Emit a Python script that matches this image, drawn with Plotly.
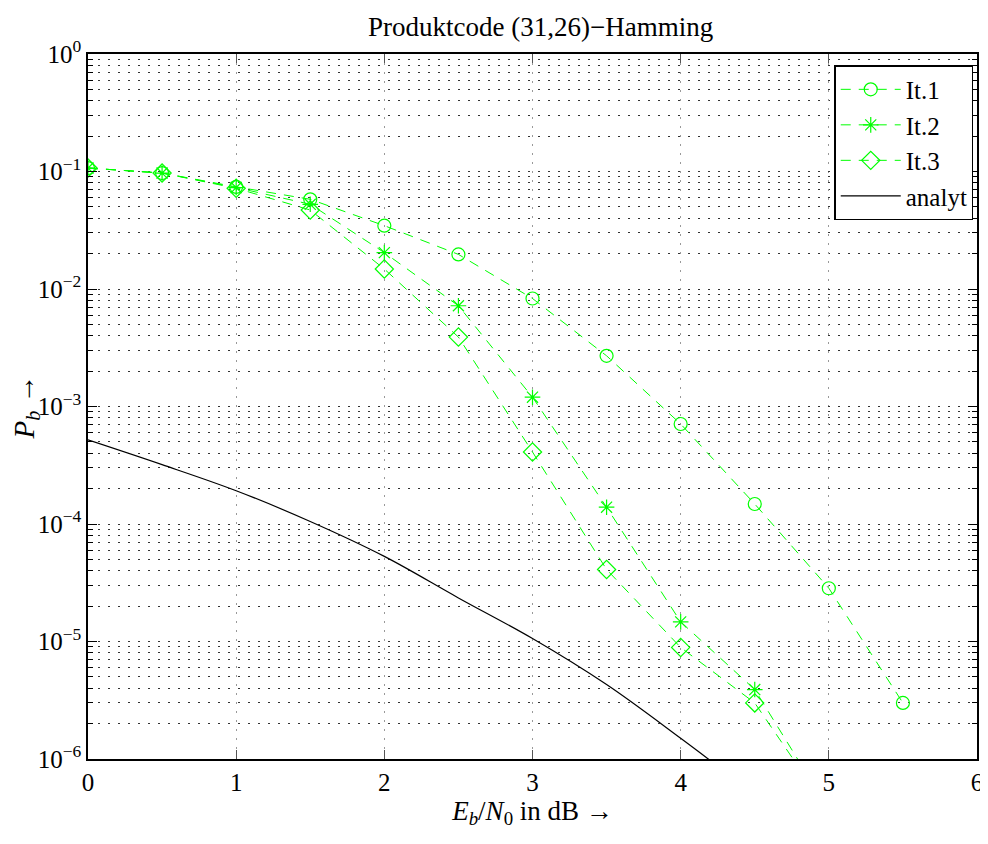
import plotly.graph_objects as go

# Eb/N0 in dB
snr_it = [0, 0.5, 1, 1.5, 2, 2.5, 3, 3.5, 4, 4.5, 5, 5.5]
snr_23 = [0, 0.5, 1, 1.5, 2, 2.5, 3, 3.5, 4, 4.5, 5]
snr_analyt = [0, 0.5, 1, 1.5, 2, 2.5, 3, 3.5, 4, 4.5]

# bit error rates
ber_it1 = [0.107, 0.097, 0.074, 0.058, 0.0346, 0.0197, 0.0083, 0.0027, 7.1e-4, 1.48e-4, 2.84e-5, 3.0e-6]
ber_it2 = [0.107, 0.097, 0.073, 0.0526, 0.0204, 0.0072, 1.2e-3, 1.39e-4, 1.47e-5, 3.9e-6, 3.7e-7]
ber_it3 = [0.107, 0.097, 0.072, 0.047, 0.0148, 0.0039, 4.1e-4, 4.1e-5, 8.9e-6, 3.0e-6, 3.6e-7]
ber_analyt = [5.2e-4, 3.2e-4, 1.92e-4, 1.05e-4, 5.3e-5, 2.35e-5, 1.06e-5, 4.3e-6, 1.5e-6, 5.0e-7]

y_ticks = [1e-6, 1e-5, 1e-4, 1e-3, 1e-2, 1e-1, 1e0]
y_ticktext = ["10<sup>−6</sup>", "10<sup>−5</sup>", "10<sup>−4</sup>", "10<sup>−3</sup>",
              "10<sup>−2</sup>", "10<sup>−1</sup>", "10<sup>0</sup>"]
y_minor = [m * 10.0 ** e for e in range(-6, 0) for m in range(2, 10)]

GREEN = "#00ff00"
FONT = "Liberation Serif, DejaVu Serif, serif"
DASH = "10px,8px"

fig = go.Figure()
fig.add_trace(go.Scatter(
    x=snr_it, y=ber_it1, name="It.1", mode="lines+markers",
    line=dict(color=GREEN, width=1, dash=DASH),
    marker=dict(symbol="circle-open", size=13, color=GREEN, line=dict(width=1.2)),
))
fig.add_trace(go.Scatter(
    x=snr_23, y=ber_it2, name="It.2", mode="lines+markers",
    line=dict(color=GREEN, width=1, dash=DASH),
    marker=dict(symbol="asterisk-open", size=13, color=GREEN, line=dict(width=1.2)),
))
fig.add_trace(go.Scatter(
    x=snr_23, y=ber_it3, name="It.3", mode="lines+markers",
    line=dict(color=GREEN, width=1, dash=DASH),
    marker=dict(symbol="diamond-open", size=14, color=GREEN, line=dict(width=1.2)),
))
fig.add_trace(go.Scatter(
    x=snr_analyt, y=ber_analyt, name="analyt", mode="lines",
    line=dict(color="black", width=1.2, shape="spline"),
))

# page body has an 8px margin, so the figure is sized to fit inside the window
fig.update_layout(
    width=980, height=836,
    margin=dict(l=80, r=5, t=46, b=85),
    paper_bgcolor="white", plot_bgcolor="white",
    font=dict(family=FONT, color="black", size=25),
    title=dict(text="Produktcode (31,26)−Hamming", x=0.5435, xanchor="center",
               y=0.978, yanchor="middle", font=dict(size=27)),
    legend=dict(x=0.996, y=0.984, xanchor="right", yanchor="top",
                bgcolor="white", bordercolor="black", borderwidth=1.3,
                font=dict(size=25), tracegroupgap=0, itemwidth=60),
    showlegend=True,
)
fig.update_xaxes(
    range=[0, 6], tickmode="array", tickvals=[0, 1, 2, 3, 4, 5, 6],
    ticks="inside", ticklen=9, tickcolor="#555", mirror="ticks",
    showline=True, linecolor="black", linewidth=1.5,
    showgrid=True, gridcolor="#999", griddash="2px,7px", gridwidth=1,
    zeroline=False, tickfont=dict(size=25),
    title=dict(text="<i>E<sub>b</sub></i>/<i>N</i><sub>0</sub> in dB →", standoff=0,
               font=dict(size=27)),
)
fig.update_yaxes(
    type="log", range=[-6, 0], tickmode="array", tickvals=y_ticks, ticktext=y_ticktext,
    ticks="inside", ticklen=9, tickcolor="black", mirror="ticks",
    showline=True, linecolor="black", linewidth=1.5,
    showgrid=True, gridcolor="#333", griddash="1.5px,8.5px", gridwidth=1,
    zeroline=False, tickfont=dict(size=25),
    minor=dict(tickmode="array", tickvals=y_minor, ticks="inside", ticklen=5,
               tickcolor="black", showgrid=True, gridcolor="#333",
               griddash="1.5px,8.5px", gridwidth=1),
    title=dict(text="<i>P<sub>b</sub></i> →", standoff=2, font=dict(size=29)),
)

fig.write_html("out.html")
